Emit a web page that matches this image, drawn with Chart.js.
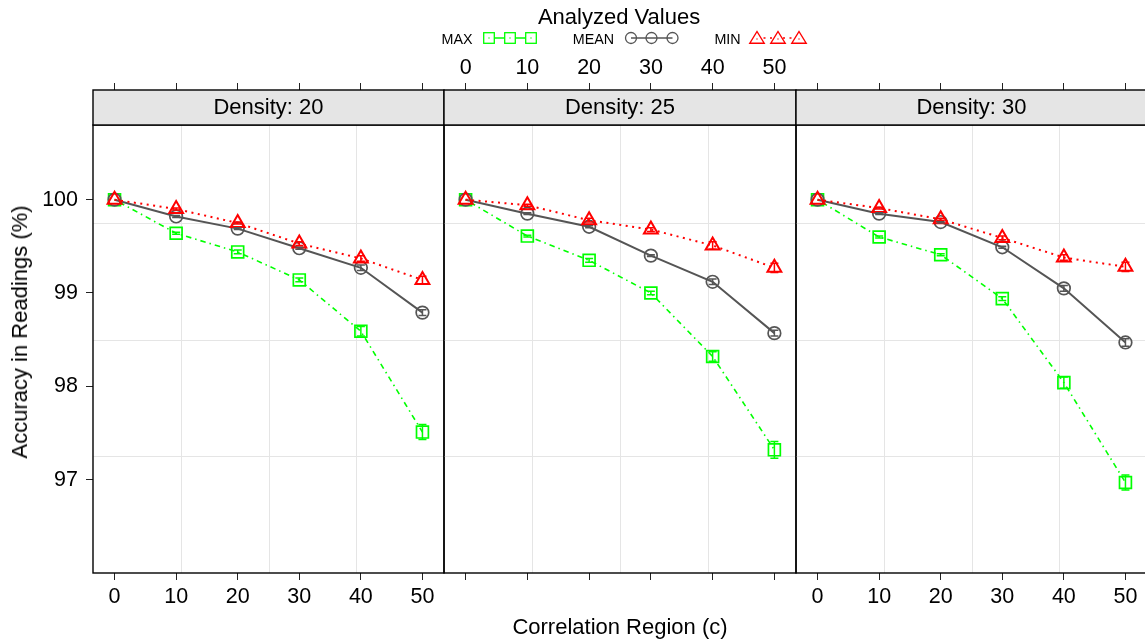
<!DOCTYPE html>
<html>
<head>
<meta charset="utf-8">
<script src="https://cdn.jsdelivr.net/npm/chart.js@4.4.1/dist/chart.umd.min.js"></script>
<style>
  html, body { margin: 0; padding: 0; background: #fff; overflow: hidden; }
  #wrap { position: relative; width: 1145px; height: 642px; overflow: hidden; }
  canvas { position: absolute; left: 0; top: 0; }
  svg { position: absolute; left: 0; top: 0; }
  .lbl {
    position: absolute;
    font-family: "Liberation Sans", Arial, sans-serif;
    color: #000;
    white-space: nowrap;
    transform: translate(-50%, -50%);
  }
</style>
</head>
<body>
<div id="wrap">
  <canvas id="p1" width="1170" height="642"></canvas>
  <canvas id="p2" width="1170" height="642"></canvas>
  <canvas id="p3" width="1170" height="642"></canvas>
  <svg id="legend" width="1145" height="60"></svg>
  <div class="lbl" style="left:620px; top:627px; font-size:22px;">Correlation Region (c)</div>
  <div class="lbl" style="left:20px; top:332px; font-size:22px; transform: translate(-50%, -50%) rotate(-90deg);">Accuracy in Readings (%)</div>
</div>
<script>
(function () {
  // data
  const regions = [0, 10, 20, 30, 40, 50];
  const densities = ['Density: 20', 'Density: 25', 'Density: 30'];
  const xTicks = [0, 10, 20, 30, 40, 50];
  const yTicks = [97, 98, 99, 100];
  const xGrid = [10.75, 25, 39.25];
  const yGrid = [97.25, 98.5, 99.75];

  const max20 = [100, 99.64, 99.44, 99.14, 98.59, 97.51];
  const mean20 = [100, 99.82, 99.69, 99.48, 99.27, 98.79];
  const min20 = [100, 99.90, 99.75, 99.53, 99.37, 99.14];
  const max25 = [100, 99.61, 99.35, 99.00, 98.32, 97.32];
  const mean25 = [100, 99.85, 99.71, 99.40, 99.12, 98.57];
  const min25 = [100, 99.94, 99.78, 99.68, 99.51, 99.27];
  const max30 = [100, 99.60, 99.41, 98.94, 98.04, 96.97];
  const mean30 = [100, 99.85, 99.76, 99.49, 99.05, 98.47];
  const min30 = [100, 99.91, 99.79, 99.59, 99.38, 99.28];

  // half-widths of the small error bars
  const maxErr20 = [0, 0.01, 0.02, 0.02, 0.05, 0.08];
  const meanErr20 = [0, 0.01, 0.01, 0.01, 0.03, 0.03];
  const minErr20 = [0, 0.01, 0.01, 0.02, 0.03, 0.04];
  const maxErr25 = [0, 0.01, 0.02, 0.02, 0.05, 0.09];
  const meanErr25 = [0, 0.01, 0.01, 0.01, 0.03, 0.03];
  const minErr25 = [0, 0.01, 0.02, 0.02, 0.04, 0.05];
  const maxErr30 = [0, 0.01, 0.01, 0.02, 0.06, 0.08];
  const meanErr30 = [0, 0.01, 0.01, 0.01, 0.03, 0.04];
  const minErr30 = [0, 0.01, 0.01, 0.02, 0.03, 0.05];

  const panelEdges = [93, 444, 796, 1147];
  const canvasWidth = 1170;
  const font = '"Liberation Sans", Arial, sans-serif';
  const axisCol = '#222';
  const gridCol = '#E5E5E5';

  const styles = {
    MAX: { color: '#00FF00', dash: [1.5, 4, 5.5, 4], width: 1.6, point: 'rect', radius: 8.4, pw: 1.7 },
    MEAN: { color: '#555555', dash: [], width: 2, point: 'circle', radius: 6.3, pw: 1.7 },
    MIN: { color: '#FF0000', dash: [2, 4.5], width: 2, point: 'triangle', radius: 8, pw: 2 }
  };

  Chart.defaults.font.family = font;
  Chart.defaults.font.size = 21.5;
  Chart.defaults.color = '#000';

  const panelDecor = {
    id: 'panelDecor',
    beforeDatasetsDraw(chart) {
      const { ctx, chartArea: a, scales } = chart;
      ctx.save();
      ctx.strokeStyle = gridCol;
      ctx.lineWidth = 1;
      xGrid.forEach((v) => {
        const px = Math.round(scales.x.getPixelForValue(v)) + 0.5;
        ctx.beginPath(); ctx.moveTo(px, a.top); ctx.lineTo(px, a.bottom); ctx.stroke();
      });
      yGrid.forEach((v) => {
        const py = Math.round(scales.y.getPixelForValue(v)) + 0.5;
        ctx.beginPath(); ctx.moveTo(a.left, py); ctx.lineTo(a.right, py); ctx.stroke();
      });
      ctx.restore();
    },
    afterDatasetsDraw(chart) {
      const { ctx, scales } = chart;
      ctx.save();
      chart.data.datasets.forEach((ds, i) => {
        const meta = chart.getDatasetMeta(i);
        ctx.strokeStyle = ds.borderColor;
        ctx.lineWidth = 1.5;
        meta.data.forEach((pt, j) => {
          const e = ds.errors[j];
          if (!e) return;
          const v = ds.data[j].y;
          const y1 = scales.y.getPixelForValue(v - e);
          const y2 = scales.y.getPixelForValue(v + e);
          ctx.beginPath();
          ctx.moveTo(pt.x, y1); ctx.lineTo(pt.x, y2);
          ctx.moveTo(pt.x - 4, y1); ctx.lineTo(pt.x + 4, y1);
          ctx.moveTo(pt.x - 4, y2); ctx.lineTo(pt.x + 4, y2);
          ctx.stroke();
        });
      });
      ctx.restore();
    },
    afterDraw(chart, args, opts) {
      const { ctx, chartArea: a } = chart;
      ctx.save();
      ctx.strokeStyle = '#000';
      ctx.lineWidth = 1.4;
      ctx.strokeRect(a.left, a.top, a.right - a.left, a.bottom - a.top);
      const sTop = a.top - 35;
      ctx.fillStyle = '#E5E5E5';
      ctx.fillRect(a.left, sTop, a.right - a.left, 35);
      ctx.strokeRect(a.left, sTop, a.right - a.left, 35);
      ctx.fillStyle = '#000';
      ctx.font = '22px ' + font;
      ctx.textAlign = 'center';
      ctx.textBaseline = 'middle';
      ctx.fillText(opts.label, (a.left + a.right) / 2, sTop + 18);
      ctx.restore();
    }
  };

  function seriesSet(name, values, errors, order) {
    const s = styles[name];
    return {
      label: name,
      data: regions.map((r, i) => ({ x: r, y: values[i] })),
      errors: errors,
      order: order,
      borderColor: s.color,
      borderWidth: s.width,
      borderDash: s.dash,
      fill: false,
      tension: 0,
      pointStyle: s.point,
      pointRadius: s.radius,
      pointBorderWidth: s.pw,
      pointBorderColor: s.color,
      pointBackgroundColor: 'rgba(0,0,0,0)'
    };
  }

  function setTicks(list) {
    return (scale) => { scale.ticks = list.map((v) => ({ value: v })); };
  }

  function makePanel(id, idx, maxV, meanV, minV, maxE, meanE, minE) {
    const left = panelEdges[idx];
    const right = panelEdges[idx + 1];
    const showY = idx === 0;
    const bottomLabels = idx !== 1;
    const topLabels = idx === 1;

    return new Chart(document.getElementById(id), {
      type: 'line',
      data: {
        datasets: [
          seriesSet('MAX', maxV, maxE, 3),
          seriesSet('MEAN', meanV, meanE, 2),
          seriesSet('MIN', minV, minE, 1)
        ]
      },
      options: {
        responsive: false,
        animation: false,
        events: [],
        layout: { padding: { left: showY ? 0 : left, right: canvasWidth - right, top: 0, bottom: 0 } },
        plugins: {
          legend: { display: false },
          tooltip: { enabled: false },
          panelDecor: { label: densities[idx] }
        },
        scales: {
          x: {
            type: 'linear',
            position: 'bottom',
            min: -3.5,
            max: 53.5,
            afterBuildTicks: setTicks(xTicks),
            afterFit: (scale) => { scale.height = 69; },
            grid: { drawOnChartArea: false, tickLength: 7, color: axisCol, lineWidth: 1 },
            border: { display: false },
            ticks: {
              padding: 4,
              maxRotation: 0,
              autoSkip: false,
              callback: (v) => (bottomLabels ? String(v) : '')
            }
          },
          xTop: {
            type: 'linear',
            axis: 'x',
            position: 'top',
            min: -3.5,
            max: 53.5,
            afterBuildTicks: setTicks(xTicks),
            afterFit: (scale) => { scale.height = 125; },
            grid: { drawOnChartArea: false, tickLength: 42, color: axisCol, lineWidth: 1 },
            border: { display: false },
            ticks: {
              padding: 2,
              maxRotation: 0,
              autoSkip: false,
              callback: (v) => (topLabels ? String(v) : '')
            }
          },
          y: {
            type: 'linear',
            display: showY,
            min: 96.0,
            max: 100.8,
            afterBuildTicks: setTicks(yTicks),
            afterFit: (scale) => { scale.width = showY ? left : 0; },
            grid: { drawOnChartArea: false, tickLength: 7, color: axisCol, lineWidth: 1 },
            border: { display: false },
            ticks: { padding: 8, autoSkip: false }
          }
        }
      },
      plugins: [panelDecor]
    });
  }

  makePanel('p1', 0, max20, mean20, min20, maxErr20, meanErr20, minErr20);
  makePanel('p2', 1, max25, mean25, min25, maxErr25, meanErr25, minErr25);
  makePanel('p3', 2, max30, mean30, min30, maxErr30, meanErr30, minErr30);

  // legend on top
  const svg = document.getElementById('legend');
  const NS = 'http://www.w3.org/2000/svg';
  function el(tag, attrs, text) {
    const n = document.createElementNS(NS, tag);
    Object.keys(attrs).forEach((k) => n.setAttribute(k, attrs[k]));
    if (text) n.textContent = text;
    svg.appendChild(n);
    return n;
  }
  const ly = 38;
  el('text', { x: 619, y: 16, 'font-family': font, 'font-size': 22, 'text-anchor': 'middle', 'dominant-baseline': 'central' }, 'Analyzed Values');

  const legendItems = [
    { name: 'MAX', textX: 457, marks: [489, 510, 531] },
    { name: 'MEAN', textX: 593.5, marks: [631, 651.5, 672.5] },
    { name: 'MIN', textX: 727.5, marks: [757, 778, 799] }
  ];
  legendItems.forEach((item) => {
    const s = styles[item.name];
    el('text', { x: item.textX, y: ly + 1, 'font-family': font, 'font-size': 14.3, 'text-anchor': 'middle', 'dominant-baseline': 'central' }, item.name);
    const m = item.marks;
    el('line', {
      x1: m[0], y1: ly, x2: m[2], y2: ly, stroke: s.color, 'stroke-width': 1.4,
      'stroke-dasharray': item.name === 'MAX' ? 'none' : (s.dash.length ? s.dash.join(' ') : 'none')
    });
    m.forEach((cx) => {
      if (item.name === 'MAX') {
        el('rect', { x: cx - 5.3, y: ly - 5.3, width: 10.6, height: 10.6, fill: '#fff', stroke: s.color, 'stroke-width': 1.3 });
        el('circle', { cx: cx, cy: ly, r: 0.7, fill: s.color });
      } else if (item.name === 'MEAN') {
        el('circle', { cx: cx, cy: ly, r: 5.5, fill: 'none', stroke: s.color, 'stroke-width': 1.3 });
      } else {
        el('polygon', { points: `${cx},${ly - 6.5} ${cx + 7.2},${ly + 5.2} ${cx - 7.2},${ly + 5.2}`, fill: '#fff', stroke: s.color, 'stroke-width': 1.4 });
        el('circle', { cx: cx, cy: ly + 1, r: 0.7, fill: s.color });
      }
    });
  });
})();
</script>
</body>
</html>
